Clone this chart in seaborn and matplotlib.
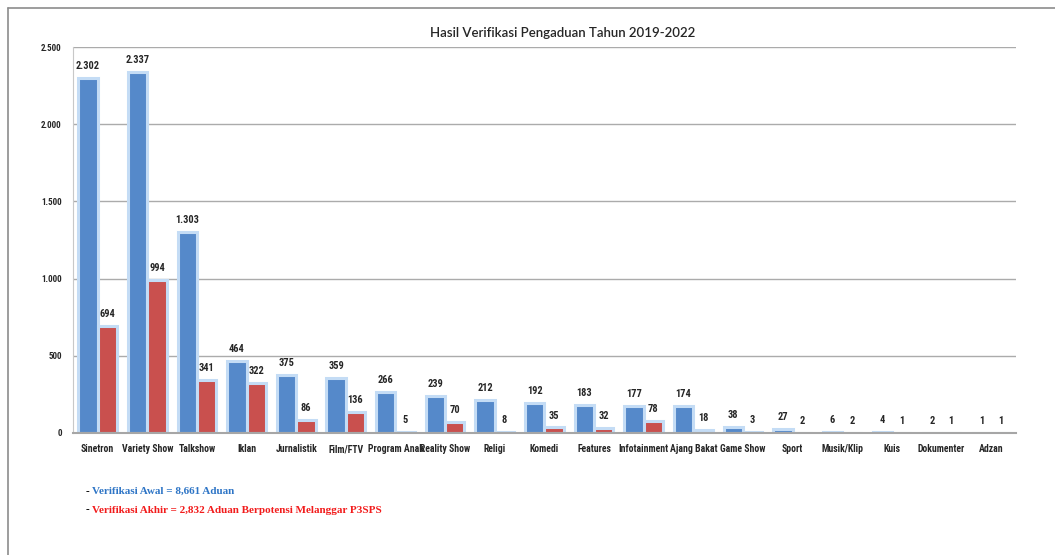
import pandas as pd
from matplotlib import pyplot as plt
from matplotlib import font_manager
from matplotlib.lines import Line2D
import seaborn as sns

categories = ["Sinetron", "Variety Show", "Talkshow", "Iklan", "Jurnalistik", "Film/FTV",
              "Program Anak", "Reality Show", "Religi", "Komedi", "Features", "Infotainment",
              "Ajang Bakat", "Game Show", "Sport", "Musik/Klip", "Kuis", "Dokumenter", "Adzan"]
verifikasi_awal = [2302, 2337, 1303, 464, 375, 359, 266, 239, 212, 192, 183, 177, 174, 38, 27, 6, 4, 2, 1]
verifikasi_akhir = [694, 994, 341, 322, 86, 136, 5, 70, 8, 35, 32, 78, 18, 3, 2, 2, 1, 1, 1]
y_ticks = [0, 500, 1000, 1500, 2000, 2500]
series_names = ["Verifikasi Awal", "Verifikasi Akhir"]

df = pd.DataFrame({
    "Kategori": categories * 2,
    "Jumlah": verifikasi_awal + verifikasi_akhir,
    "Tahap": [series_names[0]] * len(categories) + [series_names[1]] * len(categories),
})

# pick a narrow font if one is available
installed = {f.name for f in font_manager.fontManager.ttflist}
narrow = "Roboto"
for name in ["Liberation Sans Narrow", "DejaVu Sans Condensed", "Roboto Condensed", "Open Sans Condensed"]:
    if name in installed:
        narrow = name
        break

sns.set_style("white")
plt.rcParams["font.family"] = [narrow, "DejaVu Sans"]

fig = plt.figure(figsize=(10.55, 5.55), dpi=100)
ax = fig.add_axes([0.069, 0.22, 0.894, 0.695])

sns.barplot(data=df, x="Kategori", y="Jumlah", hue="Tahap", ax=ax,
            palette=["#5589CA", "#C9504E"], width=0.78, legend=False,
            edgecolor="#C4DCF5", linewidth=2.2, saturation=1)

ax.set_ylim(0, 2500)
ax.set_yticks(y_ticks)
ax.set_yticklabels([f"{v:,}".replace(",", ".") for v in y_ticks], fontsize=6.5, fontweight="bold")
ax.yaxis.grid(True, color="#ABABAB", linewidth=1.0)
ax.set_axisbelow(True)
ax.set_xlabel("")
ax.set_ylabel("")
ax.tick_params(axis="x", labelsize=7, length=0, pad=8)
ax.tick_params(axis="y", length=0, pad=8)
for lbl in ax.get_xticklabels():
    lbl.set_fontweight("bold")
ax.set_xlim(-0.5, len(categories) - 0.5)
for side in ["top", "right"]:
    ax.spines[side].set_visible(False)
ax.spines["left"].set_color("#C8C8C8")
ax.spines["bottom"].set_color("#A6A6A6")
ax.spines["bottom"].set_linewidth(1.5)

for container in ax.containers:
    labels = [f"{int(round(b.get_height())):,}".replace(",", ".") for b in container]
    ax.bar_label(container, labels=labels, padding=5, fontsize=7.5, fontweight="bold")

fig.text(0.533, 0.94, "Hasil Verifikasi Pengaduan Tahun 2019-2022", ha="center", va="center",
         fontsize=9.5, family=["Lato", "DejaVu Sans"], fontweight="semibold")

fig.text(0.081, 0.114, "-", fontsize=8, color="black", family="Liberation Serif",
         fontweight="bold", va="center")
fig.text(0.087, 0.114, "Verifikasi Awal = 8,661 Aduan", fontsize=8, color="#2E75C6",
         family="Liberation Serif", fontweight="bold", va="center")
fig.text(0.081, 0.081, "-", fontsize=8, color="black", family="Liberation Serif",
         fontweight="bold", va="center")
fig.text(0.087, 0.081, "Verifikasi Akhir = 2,832 Aduan Berpotensi Melanggar P3SPS", fontsize=8,
         color="#F21C1C", family="Liberation Serif", fontweight="bold", va="center")

# outer frame lines (top and left)
fig.add_artist(Line2D([0.008, 1.0], [0.986, 0.986], color="#8C8C8C", linewidth=1.2, transform=fig.transFigure))
fig.add_artist(Line2D([0.008, 0.008], [0.0, 0.986], color="#8C8C8C", linewidth=1.2, transform=fig.transFigure))

fig.savefig("out.png", dpi=100, facecolor="white")
